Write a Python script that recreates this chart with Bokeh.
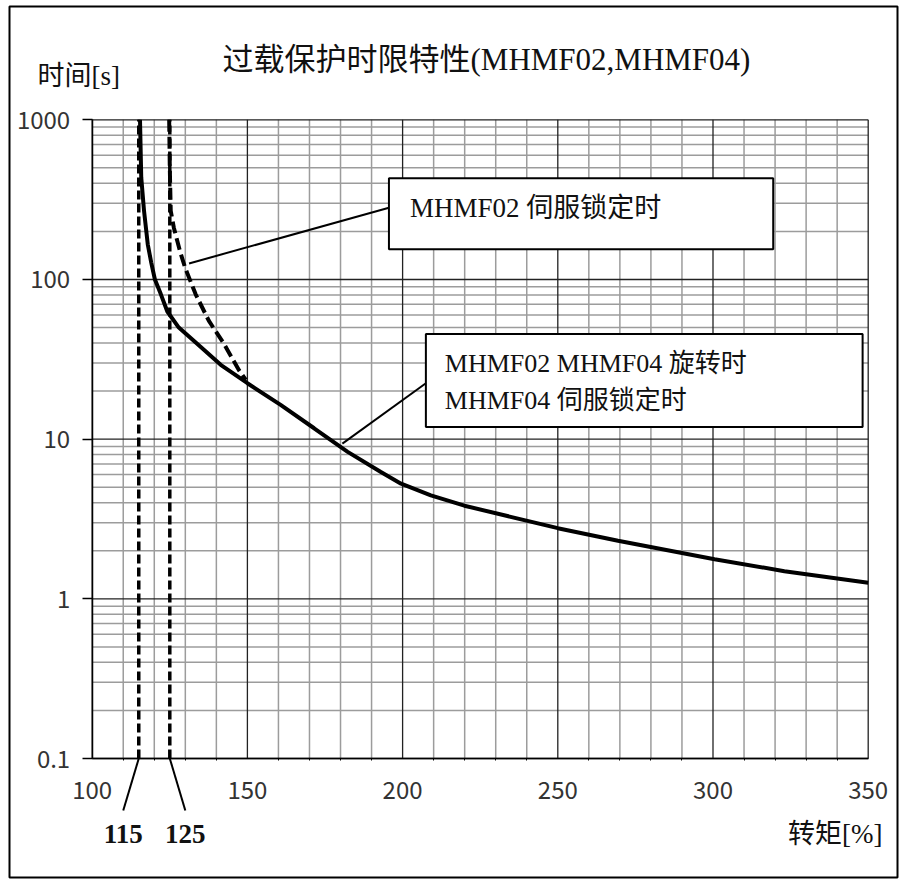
import math
from bokeh.plotting import figure
from bokeh.models import FixedTicker, Label, CustomJSTickFormatter
from bokeh.core.properties import value
from bokeh.embed import file_html
from bokeh.resources import INLINE

# ---------------- data ----------------
# rotating (MHMF02/MHMF04) and MHMF04 servo-lock curve: torque [%] -> time [s]
solid_x = [115.4, 115.8, 116.7, 117.9, 119.0, 120.2, 122.1, 124.2, 127.9, 133.9, 141.4, 150.0,
           160.7, 171.5, 182.3, 193.0, 199.5, 209.1, 219.9, 250.0, 269.4, 300.5, 323.0, 350.0]
solid_y = [1000, 435, 269, 166, 128, 100, 81, 63, 50, 39.4, 29.2, 22.4,
           16.4, 11.7, 8.32, 6.22, 5.26, 4.45, 3.83, 2.77, 2.31, 1.77, 1.49, 1.26]
# MHMF02 servo-lock curve
lock02_x = [124.8, 125.0, 125.3, 126.3, 128.3, 129.9, 133.3, 137.6, 142.5, 147.3, 149.5]
lock02_y = [1000, 500, 269, 211, 150, 119, 81, 55, 39.4, 27, 23.5]
# threshold torques and where their labels sit
limit_x = [115, 125]
limit_labels = ["115", "125"]
limit_label_x = [110, 130]

x_min, x_max = 100, 350
y_min, y_max = 0.1, 1000
x_major = [100, 150, 200, 250, 300, 350]
x_minor = [110, 120, 130, 140, 160, 170, 180, 190, 210, 220, 230, 240,
           260, 270, 280, 290, 310, 320, 330, 340]
y_major = [0.1, 1, 10, 100, 1000]
y_minor = [0.2, 0.3, 0.4, 0.5, 0.6, 0.7, 0.8, 0.9,
           2, 3, 4, 5, 6, 7, 8, 9,
           20, 30, 40, 50, 60, 70, 80, 90,
           200, 300, 400, 500, 600, 700, 800, 900]

title_text = "过载保护时限特性(MHMF02,MHMF04)"
ylabel_text = "时间[s]"
xlabel_text = "转矩[%]"

# callout boxes (data coords) and their texts
box_left = [195.6, 207.5]
box_right = [319.4, 348.2]
box_top = [431, 45.5]
box_bottom = [154.5, 11.9]
leader_x0 = [131.2, 180.6]
leader_y0 = [126, 9.38]
leader_x1 = [195.6, 207.5]
leader_y1 = [281, 22.4]
note1_text = ["MHMF02  伺服锁定时"]
note1_x = [202.4]
note1_y = [282]
note2_text = ["MHMF02 MHMF04 旋转时", "MHMF04  伺服锁定时"]
note2_x = [213.6, 213.6]
note2_y = [29.8, 17.5]

# ---------------- layout (pixels) ----------------
W, H = 899, 879
FL, FT, FR, FB = 9, 6, 897, 877          # outer frame edges
PX_L, PX_R = 91.7, 867.7                 # pixel of x_min, x_max
PX_T, PX_B = 119.3, 758.0                # pixel of y_max, y_min

ppu = (PX_R - PX_L) / (x_max - x_min)
x_lo = x_min - (PX_L - FL) / ppu
x_hi = x_max + (FR - PX_R) / ppu
dec = (PX_B - PX_T) / (math.log10(y_max) - math.log10(y_min))
y_hi = 10 ** (math.log10(y_max) + (PX_T - FT) / dec)
y_lo = 10 ** (math.log10(y_min) - (FB - PX_B) / dec)


def dx(px):
    return x_lo + (px - FL) / ppu


def dy(py):
    return 10 ** (math.log10(y_hi) - (py - FT) / dec)


SERIF_CJK = "Liberation Serif, Noto Sans CJK SC"
GOTHIC = "Noto Sans CJK JP"
INK = "#111111"

p = figure(width=W, height=H, x_range=(x_lo, x_hi), y_range=(y_lo, y_hi),
           y_axis_type="log", output_backend="svg", toolbar_location=None, title=None,
           min_border_left=FL, min_border_right=W - FR, min_border_top=FT,
           min_border_bottom=H - FB, background_fill_color="white",
           border_fill_color="white")

p.outline_line_color = "black"
p.outline_line_width = 2
p.xgrid.visible = False
p.ygrid.visible = False

# grid lines (minor gray, major black)
p.segment(x0=x_minor, y0=[y_min] * len(x_minor), x1=x_minor, y1=[y_max] * len(x_minor),
          line_color="#9c9c9c", line_width=1.5)
p.segment(x0=[x_min] * len(y_minor), y0=y_minor, x1=[x_max] * len(y_minor), y1=y_minor,
          line_color="#9c9c9c", line_width=1.5)
p.segment(x0=x_major, y0=[y_min] * len(x_major), x1=x_major, y1=[y_max] * len(x_major),
          line_color="#222222", line_width=1.3)
p.segment(x0=[x_min] * len(y_major), y0=y_major, x1=[x_max] * len(y_major), y1=y_major,
          line_color="#222222", line_width=1.3)

# axes placed on the chart box edges
xt = FixedTicker(ticks=x_major, minor_ticks=x_minor)
yt = FixedTicker(ticks=y_major, minor_ticks=y_minor)
p.xaxis.ticker = xt
p.yaxis.ticker = yt
p.xaxis.fixed_location = y_min
p.yaxis.fixed_location = x_min
p.xaxis.bounds = (x_min, x_max)
p.yaxis.bounds = (y_min, y_max)
p.yaxis.formatter = CustomJSTickFormatter(code="return tick < 1 ? tick.toFixed(1) : tick.toFixed(0);")

for ax in (p.xaxis, p.yaxis):
    ax.axis_line_color = "black"
    ax.axis_line_width = 1.5
    ax.major_tick_line_color = "black"
    ax.major_tick_line_width = 1.5
    ax.minor_tick_line_color = "black"
    ax.major_tick_in = 0
    ax.minor_tick_in = 0
    ax.major_label_text_font = GOTHIC
    ax.major_label_text_font_size = "24px"
    ax.major_label_text_color = "#333333"
    ax.major_label_text_font_style = "normal"

p.yaxis.major_tick_out = 10
p.yaxis.minor_tick_out = 0
p.yaxis.major_label_standoff = 12
p.xaxis.major_tick_out = 0
p.xaxis.minor_tick_out = 2
p.xaxis.major_label_standoff = 20

# threshold vertical dashed lines
p.segment(x0=limit_x, y0=[y_min] * len(limit_x), x1=limit_x, y1=[y_max] * len(limit_x),
          line_color="black", line_width=3.5, line_dash="9 4")

# curves
p.line(lock02_x, lock02_y, line_color="black", line_width=4, line_dash="12 5")
p.line(solid_x, solid_y, line_color="black", line_width=4)

# callouts
p.segment(x0=leader_x0, y0=leader_y0, x1=leader_x1, y1=leader_y1,
          line_color="black", line_width=2)
p.quad(left=box_left, right=box_right, top=box_top, bottom=box_bottom,
       fill_color="white", line_color="black", line_width=2)
p.text(x=note1_x, y=note1_y, text=note1_text, text_font=value(SERIF_CJK),
       text_font_size="27px", text_baseline="middle", text_align="left", text_color=INK)
p.text(x=note2_x, y=note2_y, text=note2_text, text_font=value(SERIF_CJK),
       text_font_size="26px", text_baseline="middle", text_align="left", text_color=INK)

# leaders from the threshold lines to their labels below the axis
p.segment(x0=limit_x, y0=[y_min] * len(limit_x), x1=limit_label_x,
          y1=[dy(810)] * len(limit_x), line_color="black", line_width=2)
p.text(x=limit_label_x, y=[dy(833)] * len(limit_x), text=limit_labels,
       text_font=value("Liberation Serif"), text_font_style="bold",
       text_font_size="27px", text_align="center", text_baseline="middle", text_color=INK)

# title and axis labels
p.add_layout(Label(x=dx(222), y=dy(59), text=title_text,
                   text_font=SERIF_CJK, text_font_size="31px", text_baseline="middle",
                   text_align="left", text_color=INK))
p.add_layout(Label(x=dx(37), y=dy(75), text=ylabel_text,
                   text_font=SERIF_CJK, text_font_size="27px", text_baseline="middle",
                   text_align="left", text_color=INK))
p.add_layout(Label(x=dx(882), y=dy(833), text=xlabel_text,
                   text_font=SERIF_CJK, text_font_size="27px", text_baseline="middle",
                   text_align="right", text_color=INK))

open("out.html", "w").write(file_html(p, INLINE))
